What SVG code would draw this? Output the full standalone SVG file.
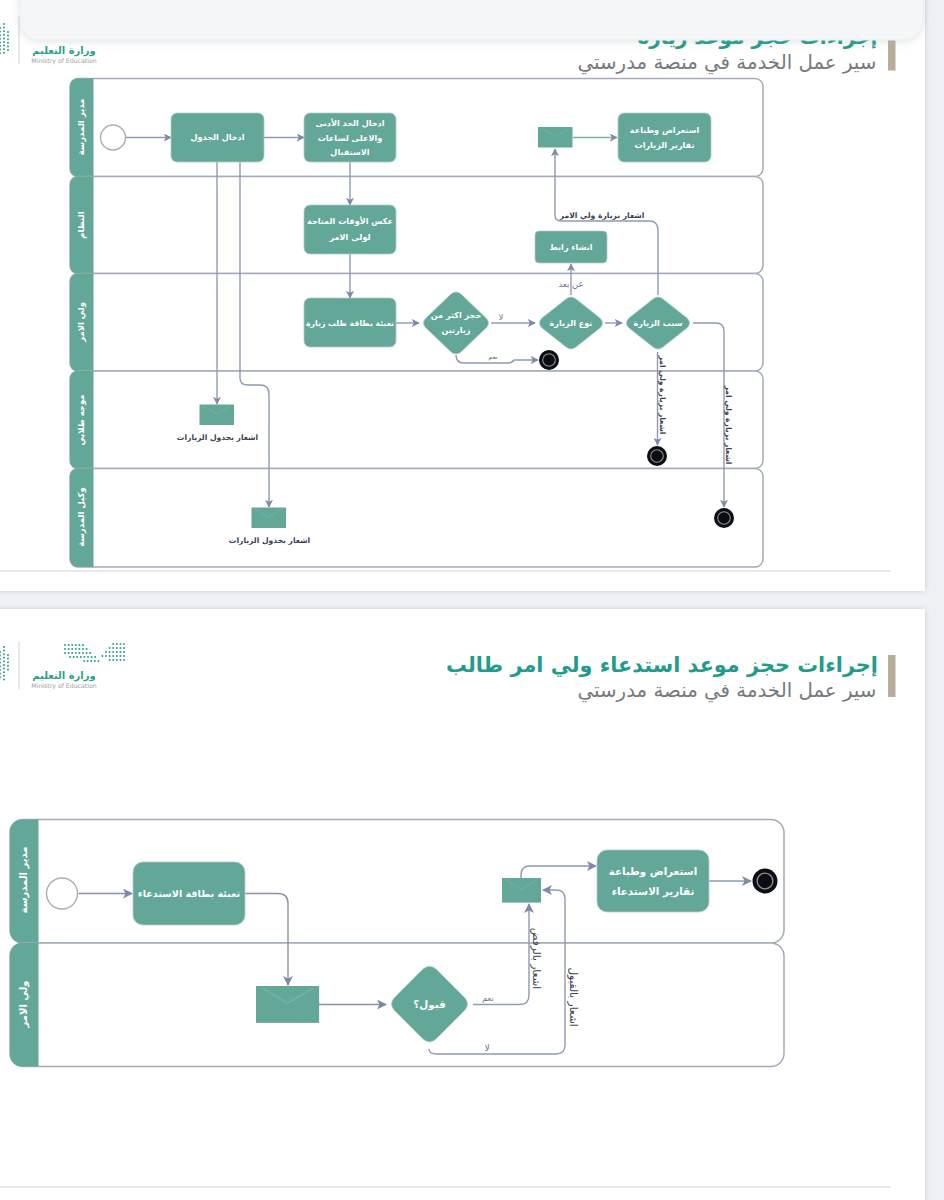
<svg xmlns="http://www.w3.org/2000/svg" xmlns:xlink="http://www.w3.org/1999/xlink" width="944" height="1200" viewBox="0 0 944 1200">
<style>
text{font-family:"DejaVu Sans","Noto Sans",sans-serif;direction:rtl;text-anchor:middle}
.lane{fill:#fff;stroke:#a3abbb;stroke-width:1.5}
.head{fill:#63a798}
.hd{fill:#fff;font-size:8.500px;font-weight:700}
.hd2{fill:#fff;font-size:10px;font-weight:700}
.task{fill:#63a798;stroke:#b5c9cc;stroke-width:.8}
.tt{fill:#fff;font-size:8.100px;font-weight:700}
.tt2{fill:#fff;font-size:10.300px;font-weight:700}
.lbl{fill:#3a4150;font-size:7.600px;font-weight:700}
.lbl2{fill:#3a4150;font-size:10.500px}
.sm{fill:#6a7284;font-size:8.500px}
.conn{fill:none;stroke:#8f9ab3;stroke-width:1.4}
.start{fill:#fff;stroke:#a9adb5;stroke-width:1.4}
.title{fill:#1f9d8a;font-weight:700;font-size:20px}
.sub{fill:#77797c;font-size:19.800px}
.min{fill:#2d9f8a;font-size:10px;font-weight:700}
.moe{fill:#9a9ea3;font-size:6.200px;direction:ltr}
.dots{fill:none;stroke:#2f9c8a;stroke-width:2;stroke-linecap:round;stroke-dasharray:0 3.600}
</style>
<defs>
<marker id="arr" viewBox="0 0 10 10" refX="9" refY="5" markerWidth="8" markerHeight="8" markerUnits="userSpaceOnUse" orient="auto"><path d="M0 0L10 5L0 10L2.500 5Z" fill="#7f8ba6"/></marker>
<marker id="arr2" viewBox="0 0 10 10" refX="9" refY="5" markerWidth="10" markerHeight="10" markerUnits="userSpaceOnUse" orient="auto"><path d="M0 0L10 5L0 10L2.500 5Z" fill="#7f8ba6"/></marker>
<g id="end"><circle r="10" fill="#0c0d12"/><circle r="6.300" fill="#0c0d12" stroke="#8d9098" stroke-width="1.100"/></g>
<g id="env"><rect width="34.500" height="20.500" fill="#63a798"/><path d="M3 1L17.200 9.500L31.500 1" fill="none" stroke="#74b0a3" stroke-width="1"/></g>
<filter id="soft" x="-5%" y="-50%" width="110%" height="200%"><feDropShadow dx="0" dy="1" stdDeviation="4" flood-color="#9aa0a8" flood-opacity=".3"/></filter>
<filter id="cardsh" x="-5%" y="-5%" width="110%" height="110%"><feDropShadow dx="0" dy="0" stdDeviation="2" flood-color="#9aa0a8" flood-opacity=".5"/></filter>
</defs>

<rect width="944" height="1200" fill="#eff0f4"/>
<rect x="-20" y="-20" width="945" height="611" fill="#fff" filter="url(#cardsh)"/>
<rect x="-20" y="609" width="945" height="600" fill="#fff" filter="url(#cardsh)"/>

<g id="page1-header">
<path d="M888 30h7.500v40.500h-7.500z" fill="#b7ad9a"/>
<text class="title" x="757.500" y="44">إجراءات حجز موعد زيارة</text>
<text class="sub" x="727" y="69">سير عمل الخدمة في منصة مدرستي</text>
<path d="M19 16V64" stroke="#d0d3d6" stroke-width="1"/>
<text class="min" x="64" y="54">وزارة التعليم</text>
<text class="moe" x="64" y="63">Ministry of Education</text>
<path class="dots" d="M4 24V56M0 28V54M8 32V50"/>
</g>
<line x1="0" y1="571" x2="891" y2="571" stroke="#ced2d4" stroke-width="1"/>

<g id="lanes1">
<g id="lane1-1"><rect class="lane" x="70" y="78.500" width="693" height="98" rx="8"/><path class="head" d="M93.500 78.500V176.500H78a8 8 0 0 1-8-8V86.500a8 8 0 0 1 8-8Z"/><text class="hd" transform="translate(84,127) rotate(-90)">مدير المدرسة</text></g>
<g id="lane1-2"><rect class="lane" x="70" y="176.500" width="693" height="97" rx="8"/><path class="head" d="M93.500 176.500V273.500H78a8 8 0 0 1-8-8V184.500a8 8 0 0 1 8-8Z"/><text class="hd" transform="translate(84,225) rotate(-90)">النظام</text></g>
<g id="lane1-3"><rect class="lane" x="70" y="273.500" width="693" height="97.500" rx="8"/><path class="head" d="M93.500 273.500V371H78a8 8 0 0 1-8-8V281.500a8 8 0 0 1 8-8Z"/><text class="hd" transform="translate(84,322) rotate(-90)">ولي الامر</text></g>
<g id="lane1-4"><rect class="lane" x="70" y="371" width="693" height="97.500" rx="8"/><path class="head" d="M93.500 371V468.500H78a8 8 0 0 1-8-8V379a8 8 0 0 1 8-8Z"/><text class="hd" transform="translate(84,420) rotate(-90)">موجه طلابي</text></g>
<g id="lane1-5"><rect class="lane" x="70" y="468.500" width="693" height="98.500" rx="8"/><path class="head" d="M93.500 468.500V567H78a8 8 0 0 1-8-8V476.500a8 8 0 0 1 8-8Z"/><text class="hd" transform="translate(84,517) rotate(-90)">وكيل المدرسة</text></g>
</g>

<g id="connectors1">
<path class="conn" marker-end="url(#arr)" d="M126 137.500H171"/>
<path class="conn" marker-end="url(#arr)" d="M264 137.500H304"/>
<path class="conn" marker-end="url(#arr)" d="M350 162V205"/>
<path class="conn" marker-end="url(#arr)" d="M350 254V298"/>
<path class="conn" marker-end="url(#arr)" d="M396 323H419"/>
<path class="conn" marker-end="url(#arr)" d="M491 323H535"/>
<path class="conn" marker-end="url(#arr)" d="M605 323H622"/>
<path class="conn" marker-end="url(#arr)" d="M571 295V264"/>
<path class="conn" marker-end="url(#arr)" d="M658 295V230Q658 221 649 221H561Q555 221 555 215V149"/>
<path class="conn" marker-end="url(#arr)" d="M657.500 352V445"/>
<path class="conn" marker-end="url(#arr)" d="M693 323H716Q724 323 724 331V507"/>
<path class="conn" marker-end="url(#arr)" d="M456 355Q456 363 464 363H508Q512 363 514 360H538"/>
<path class="conn" marker-end="url(#arr)" d="M573 137.500H617" style="stroke:#7fb0a6"/>
<path class="conn" marker-end="url(#arr)" d="M217 162V404"/>
<path class="conn" marker-end="url(#arr)" d="M240 162V378Q240 385 248 385H260Q269 385 269 394V507"/>
</g>

<text class="lbl" x="602" y="217.500">اشعار بزيارة ولي الامر</text>
<text class="sm" x="571" y="287">عن بعد</text>
<text class="sm" x="501" y="320">لا</text>
<text class="sm" x="493" y="359" style="font-size:6.500px">نعم</text>
<text class="lbl" transform="translate(660,395) rotate(90)">اشعار بزيارة ولي امر</text>
<text class="lbl" transform="translate(726,425) rotate(90)">اشعار بزيارة ولي امر</text>

<g id="n-start1"><circle class="start" cx="113" cy="137.500" r="12.500"/></g>
<g id="n-schedule"><rect class="task" x="171" y="113" width="93" height="49" rx="6"/><text class="tt" x="217.500" y="140">ادخال الجدول</text></g>
<g id="n-minmax"><rect class="task" x="304" y="113" width="92" height="49" rx="6"/><text class="tt" x="350" y="126">ادخال الحد الأدنى</text><text class="tt" x="350" y="141">والاعلى لساعات</text><text class="tt" x="350" y="155">الاستقبال</text></g>
<g id="n-reflect"><rect class="task" x="304" y="205" width="92" height="49" rx="6"/><text class="tt" x="350" y="224">عكس الأوقات المتاحة</text><text class="tt" x="350" y="240">لولي الامر</text></g>
<g id="n-fill"><rect class="task" x="304" y="298" width="92" height="49" rx="6"/><text class="tt" x="350" y="325.500" style="font-size:7.800px">تعبئة بطاقة طلب زيارة</text></g>
<g id="n-d1"><path class="task" d="M451 294Q456 290 461 294L486 318Q491 323 486 328L461 352Q456 356 451 352L426 328Q421 323 426 318Z"/><text class="tt" x="456" y="318">حجز اكثر من</text><text class="tt" x="456" y="333">زيارتين</text></g>
<g id="n-d2"><path class="task" d="M566 299Q571 295 576 299L600 318Q605 323 600 328L576 347Q571 351 566 347L542 328Q537 323 542 318Z"/><text class="tt" x="571" y="326">نوع الزيارة</text></g>
<g id="n-d3"><path class="task" d="M653 299Q658 295 663 299L687 318Q692 323 687 328L663 347Q658 351 653 347L629 328Q624 323 629 318Z"/><text class="tt" x="658" y="326">سبب الزيارة</text></g>
<g id="n-link"><rect class="task" x="535" y="231" width="72" height="32" rx="4"/><text class="tt" x="571" y="249.500">انشاء رابط</text></g>
<g id="n-env1"><use xlink:href="#env" href="#env" x="538" y="127"/></g>
<g id="n-reports"><rect class="task" x="618" y="113" width="93" height="49" rx="6"/><text class="tt" x="664.500" y="133">استعراض وطباعة</text><text class="tt" x="664.500" y="148">تقارير الزيارات</text></g>
<g id="n-env2"><use xlink:href="#env" href="#env" x="199.500" y="404.500"/><text class="lbl" x="217.500" y="440">اشعار بجدول الزيارات</text></g>
<g id="n-env3"><use xlink:href="#env" href="#env" x="251.500" y="507.500"/><text class="lbl" x="269.500" y="543">اشعار بجدول الزيارات</text></g>
<g id="n-end1"><use xlink:href="#end" href="#end" x="549" y="360"/></g>
<g id="n-end2"><use xlink:href="#end" href="#end" x="657" y="456"/></g>
<g id="n-end3"><use xlink:href="#end" href="#end" x="724" y="518"/></g>

<g id="page2-header">
<path d="M888 655h7.500v42h-7.500z" fill="#b7ad9a"/>
<text class="title" x="662" y="672" style="font-size:20.800px">إجراءات حجز موعد استدعاء ولي امر طالب</text>
<text class="sub" x="727" y="697">سير عمل الخدمة في منصة مدرستي</text>
<path d="M19 641V689" stroke="#d0d3d6" stroke-width="1"/>
<text class="min" x="64" y="679">وزارة التعليم</text>
<text class="moe" x="64" y="688">Ministry of Education</text>
<path class="dots" d="M65 645H84M65 649H88M65 653H92M70 657H96M84 661H99M124 644H113M124 648H108M124 652H104M124 656H102M124 660H107"/>
<path class="dots" d="M4 647V680M0 652V678M8 655V672"/>
</g>
<line x1="0" y1="1187" x2="891" y2="1187" stroke="#ced2d4" stroke-width="1"/>

<g id="lanes2">
<g id="lane2-1"><rect class="lane" x="10" y="819.500" width="774" height="123.500" rx="13"/><path class="head" d="M38.500 819.500V943H22a12 12 0 0 1-12-12V831.500a12 12 0 0 1 12-12Z"/><text class="hd2" transform="translate(27,880) rotate(-90)">مدير المدرسة</text></g>
<g id="lane2-2"><rect class="lane" x="10" y="943" width="774" height="123.500" rx="13"/><path class="head" d="M38.500 943V1066.500H22a12 12 0 0 1-12-12V955a12 12 0 0 1 12-12Z"/><text class="hd2" transform="translate(27,1004) rotate(-90)">ولي الامر</text></g>
</g>

<g id="connectors2">
<path class="conn" style="stroke:#8b90a3" marker-end="url(#arr2)" d="M78.500 893.500H132"/>
<path class="conn" style="stroke:#8b90a3" marker-end="url(#arr2)" d="M245 893.500H278Q288 893.500 288 903.500V985"/>
<path class="conn" style="stroke:#8b90a3" marker-end="url(#arr2)" d="M319 1004.500H386"/>
<path class="conn" marker-end="url(#arr2)" d="M473 1004.500H520Q529 1004.500 529 995V904"/>
<path class="conn" marker-end="url(#arr2)" d="M429 1049Q429 1054 436 1054H556Q565 1054 565 1045V899Q565 890 556 890H543"/>
<path class="conn" marker-end="url(#arr2)" d="M521 878V875Q521 866 530 866H596"/>
<path class="conn" marker-end="url(#arr2)" d="M709 881H751"/>
</g>
<text class="sm" x="488" y="1001" style="font-size:8px">نعم</text>
<text class="sm" x="487" y="1051" style="font-size:9px">لا</text>
<text class="lbl2" transform="translate(533,958.500) rotate(90)">اشعار بالرفض</text>
<text class="lbl2" transform="translate(570,997) rotate(90)">اشعار بالقبول</text>

<g id="m-start"><circle class="start" cx="62" cy="893.500" r="15.500"/></g>
<g id="m-fill"><rect class="task" x="133" y="862" width="112" height="63" rx="10"/><text class="tt2" x="189" y="897" style="font-size:9.600px">تعبئة بطاقة الاستدعاء</text></g>
<g id="m-env1"><use xlink:href="#env" href="#env" transform="translate(256,986) scale(1.830,1.800)"/></g>
<g id="m-d"><path class="task" d="M423 969Q429.500 963.500 436 969L465 998Q470 1004 465 1010L436 1039Q429.500 1045 423 1039L394 1010Q389 1004 394 998Z"/><text class="tt2" x="429.500" y="1008">قبول؟</text></g>
<g id="m-env2"><use xlink:href="#env" href="#env" transform="translate(502,878) scale(1.130,1.200)"/></g>
<g id="m-reports"><rect class="task" x="597" y="850" width="112" height="62" rx="10"/><text class="tt2" x="653" y="875">استعراض وطباعة</text><text class="tt2" x="653" y="895">تقارير الاستدعاء</text></g>
<g id="m-end"><use xlink:href="#end" href="#end" transform="translate(765,881) scale(1.250)"/></g>

<g id="overlay-panel"><rect x="20" y="-30" width="903" height="70" rx="20" fill="#f4f6f7" stroke="#eceef0" stroke-width="1" filter="url(#soft)"/></g>
</svg>
